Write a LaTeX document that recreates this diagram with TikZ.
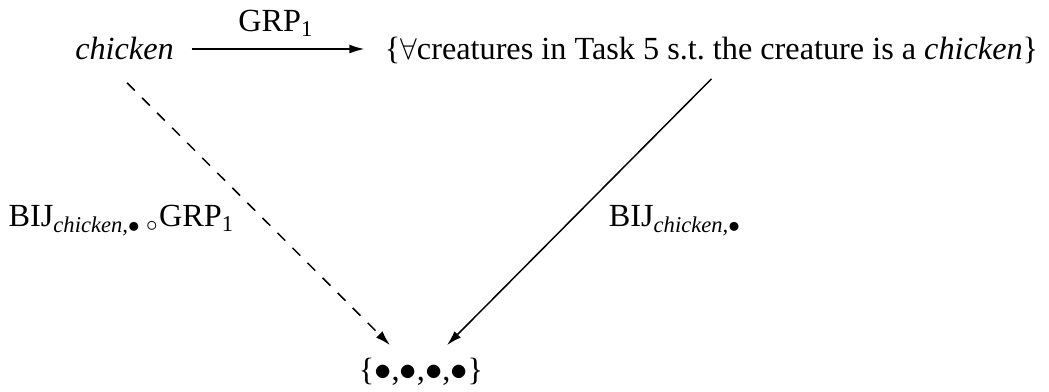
\documentclass[tikz,border=0pt]{standalone}
\usepackage{fontspec}
\setmainfont{Liberation Serif}
\usepackage{amsmath}
\usepackage{graphicx}
\usepackage{tikz}
\usetikzlibrary{arrows.meta}

\newcommand{\bigdot}{\scalebox{1.15}{$\bullet$}}

\begin{document}
\begin{tikzpicture}[x=0.4pt, y=-0.4pt,
    font=\fontsize{12.9}{15}\selectfont,
    every node/.style={inner sep=0pt, anchor=base},
    map/.style={line width=0.6pt, -{Latex[length=6pt, width=3.6pt]}}]
  \useasboundingbox (0,0) rectangle (1049,392);
  % Nodes
  \node (chicken) at (124.5, 60) {\textit{chicken}};
  \node (set) at (711.5, 60) {\{$\forall$creatures in Task 5 s.t.\ the creature is a \textit{chicken}\}};
  \node (dots) at (421, 381) {\{\bigdot,\bigdot,\bigdot,\bigdot\}};
  \node (grp) at (276, 32) {GRP\textsubscript{1}};
  \node (comp) at (121.5, 227) {BIJ$_{\textit{chicken,}\bullet}$\,$_{\circ}$GRP\textsubscript{1}};
  \node (bij) at (675, 227) {BIJ$_{\textit{chicken,}\bullet}$};

  % Edges
  \draw[map] ([xshift=7pt]chicken.east |- 0,49) -- ([xshift=-8pt]set.west |- 0,49);
  \draw[map, dash pattern=on 4.4pt off 4.1pt] ([shift={(2.5,22)}]chicken.south) -- ([shift={(-31,-13)}]dots.north);
  \draw[map] ([shift={(0,14)}]set.south) -- ([shift={(26,-13)}]dots.north);
\end{tikzpicture}
\end{document}
